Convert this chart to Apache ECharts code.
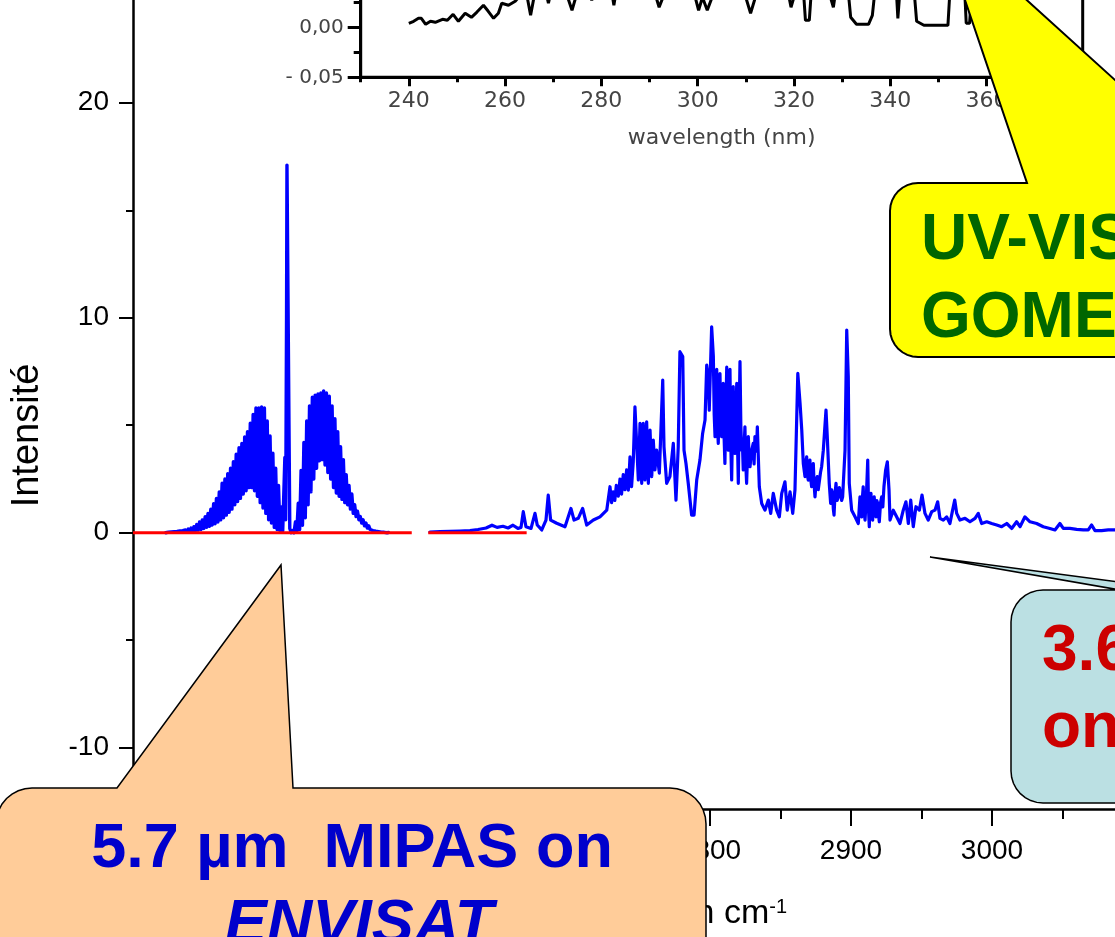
<!DOCTYPE html>
<html>
<head>
<meta charset="utf-8">
<script src="https://cdn.jsdelivr.net/npm/echarts@6/dist/echarts.min.js"></script>
<style>
  html, body { margin: 0; padding: 0; background: #fff; }
  #chart { width: 1115px; height: 937px; }
</style>
</head>
<body>
<div id="chart"></div>
<script>
// ---- Main spectrum: wavenumber (cm-1) vs intensity ----
const X_MIN = 2390.8, X_MAX = 3095;
const Y_MIN = -12.85, Y_MAX = 24.78;
const xMajorTicks = [2400, 2500, 2600, 2700, 2800, 2900, 3000];
const xMinorTicks = [2450, 2550, 2650, 2750, 2850, 2950, 3050];
const yMajorTicks = [-10, 0, 10, 20];
const yMinorTicks = [-5, 5, 15];

// 5.7 µm band: P branch (dense rotational lines)
const bandP = [
  [2414,0.0],[2415,0.0],[2416,0.03],[2417,0.0],[2418,0.04],[2419,0.0],[2420,0.05],[2421,0.01],
  [2422,0.06],[2423,0.01],[2424,0.08],[2425,0.01],[2426,0.1],[2427,0.02],[2428,0.13],[2429,0.03],
  [2430,0.17],[2431,0.05],[2432,0.22],[2433,0.07],[2434,0.28],[2435,0.09],[2436,0.38],[2437,0.12],
  [2438,0.5],[2439,0.15],[2440,0.6],[2441,0.2],[2442,0.75],[2443,0.25],[2444,0.9],[2445,0.3],
  [2446,1.1],[2447,0.36],[2448,1.35],[2449,0.42],[2450,1.6],[2451,0.5],[2452,1.9],[2453,0.6],
  [2454,2.3],[2455,0.7],[2456,2.5],[2457,0.82],[2458,2.75],[2459,0.95],[2460,3.0],[2461,1.1],
  [2462,3.3],[2463,1.3],[2464,3.65],[2465,1.45],[2466,3.95],[2467,1.6],[2468,4.15],[2469,1.8],
  [2470,4.45],[2471,1.95],[2472,4.7],[2473,2.1],[2474,5.1],[2475,2.1],[2476,5.5],[2477,1.95],
  [2478,5.8],[2479,1.7],[2480,5.8],[2481,1.4],[2482,5.85],[2483,1.15],[2484,5.8],[2485,0.9],
  [2486,5.2],[2487,0.6],[2488,4.5],[2489,0.45],[2490,3.7],[2491,0.25],[2492,3.0],[2493,0.15],
  [2494,2.2],[2495,0.1],[2496,1.2],[2497,0.1]
];
// Q branch spike
const bandQ = [
  [2497.8,0.1],[2498.5,3.5],[2499.1,0.6],[2499.7,10.0],[2500.0,17.1],[2501.4,17.1],
  [2502.0,0.2],[2503,0.0]
];
// R branch
const bandR = [
  [2504,0.1],[2505,0.0],[2506,0.5],[2507,0.05],[2508,1.37],[2509,0.15],[2510,2.9],[2511,0.35],
  [2512,4.2],[2513,0.7],[2514,5.2],[2515,1.3],[2516,5.9],[2517,1.9],[2518,6.3],[2519,2.5],
  [2520,6.4],[2521,3.0],[2522,6.45],[2523,3.35],[2524,6.5],[2525,3.4],[2526,6.6],[2527,3.15],
  [2528,6.5],[2529,2.8],[2530,6.35],[2531,2.5],[2532,5.9],[2533,2.1],[2534,5.3],[2535,1.85],
  [2536,4.7],[2537,1.7],[2538,4.0],[2539,1.55],[2540,3.4],[2541,1.4],[2542,2.7],[2543,1.3],
  [2544,2.2],[2545,1.1],[2546,1.8],[2547,0.9],[2548,1.3],[2549,0.75],[2550,1.0],[2551,0.6],
  [2552,0.75],[2553,0.45],[2554,0.6],[2555,0.32],[2556,0.45],[2557,0.22],[2558,0.32],[2559,0.15],
  [2560,0.22],[2561,0.1],[2562,0.15],[2563,0.07],[2564,0.1],[2565,0.05],[2566,0.08],[2567,0.03],
  [2568,0.05],[2569,0.02],[2570,0.03],[2571,0.0],[2572,0.01]
];
// 3.6 µm region
const band36 = [
  [2601.4,0.03],[2608.5,0.05],[2615.6,0.06],[2622.7,0.08],[2629.8,0.1],[2635.5,0.15],[2641.2,0.22],
  [2645.4,0.35],[2649.0,0.25],[2653.2,0.3],[2656.8,0.22],[2660.3,0.35],[2663.8,0.2],[2666.0,0.25],
  [2667.6,0.98],[2669.5,0.28],[2673.1,0.2],[2675.9,0.9],[2677.5,0.36],[2680.7,0.13],[2683.7,0.59],
  [2685.3,1.75],[2687.0,0.59],[2691.3,0.44],[2697.2,0.28],[2701.4,1.13],[2703.6,0.59],[2706.6,0.67],
  [2709.7,1.13],[2712.6,0.36],[2717.3,0.59],[2722.0,0.74],[2726.8,1.05],[2729.1,2.14],[2730.2,1.4],
  [2731.4,1.9],[2732.5,1.5],[2733.6,2.2],[2735.0,1.7],[2736.2,2.5],[2737.3,1.8],[2738.5,2.7],
  [2739.7,2.0],[2740.9,2.92],[2742.1,1.98],[2743.3,3.53],[2744.4,2.14],[2745.6,3.3],[2746.8,5.86],
  [2748.0,4.16],[2749.2,2.46],[2750.4,5.09],[2751.6,2.3],[2752.7,5.09],[2753.9,2.46],[2755.1,5.16],
  [2756.3,2.3],[2757.5,4.78],[2758.7,2.61],[2759.8,4.31],[2761.0,2.92],[2762.2,3.84],[2764.1,2.77],
  [2766.5,7.1],[2767.4,4.0],[2769.3,2.3],[2771.6,2.61],[2774.0,4.16],[2775.9,1.52],[2777.5,3.99],
  [2778.7,8.42],[2780.7,8.2],[2781.6,3.84],[2783.0,3.22],[2784.6,2.3],[2787.0,0.82],[2788.7,0.82],
  [2790.6,2.45],[2792.9,3.38],[2794.8,4.62],[2796.5,5.24],[2797.7,7.8],[2798.8,7.25],[2799.5,5.7],
  [2801.2,9.58],[2802.4,8.2],[2803.0,5.5],[2803.6,4.47],[2804.2,6.5],[2804.8,7.6],[2805.3,5.0],
  [2805.9,4.16],[2806.5,6.0],[2807.1,7.4],[2807.7,5.2],[2808.3,4.47],[2808.9,6.2],[2809.4,6.95],
  [2810.0,4.5],[2810.6,3.22],[2811.2,5.5],[2811.9,7.7],[2812.4,5.0],[2813.0,3.84],[2813.6,6.0],
  [2814.2,7.6],[2814.8,4.0],[2815.4,2.46],[2816.0,5.0],[2816.5,6.8],[2817.1,4.5],[2817.7,3.69],
  [2818.4,5.5],[2819.0,6.95],[2819.6,4.0],[2820.1,2.3],[2820.7,5.5],[2821.3,7.96],[2821.9,5.0],
  [2822.5,3.84],[2823.0,4.2],[2823.6,2.92],[2824.2,4.0],[2824.8,4.93],[2825.4,3.2],[2826.0,2.3],
  [2826.6,3.5],[2827.2,4.47],[2827.8,3.5],[2828.4,3.07],[2829.5,3.8],[2830.7,4.16],[2831.3,3.2],
  [2831.9,4.47],[2833.0,3.8],[2833.6,4.93],[2835.0,2.14],[2836.7,1.36],[2839.0,1.05],[2841.4,1.52],
  [2843.1,0.9],[2844.9,1.83],[2847.3,1.05],[2849.2,0.74],[2850.9,1.83],[2853.2,2.37],[2854.8,1.05],
  [2856.8,1.9],[2858.7,0.9],[2860.3,2.0],[2862.3,7.41],[2863.9,6.02],[2865.1,4.78],[2866.2,3.22],
  [2867.4,2.61],[2868.0,3.3],[2868.6,3.53],[2869.1,2.7],[2869.7,2.45],[2870.3,3.2],[2870.9,3.38],
  [2871.5,2.5],[2872.1,2.14],[2872.7,3.0],[2873.3,3.22],[2873.9,2.2],[2874.5,1.67],[2875.3,2.4],
  [2876.1,2.61],[2876.8,2.0],[2877.5,1.98],[2878.4,2.8],[2879.2,3.07],[2880.4,3.84],[2882.3,5.7],
  [2883.2,4.47],[2884.6,2.3],[2885.6,1.36],[2886.3,2.0],[2887.0,1.83],[2887.5,1.1],[2888.0,0.82],
  [2888.7,1.8],[2889.4,2.3],[2890.2,1.5],[2891.0,1.67],[2891.8,2.1],[2892.7,2.06],[2893.4,1.5],
  [2894.1,1.67],[2895.8,3.84],[2897.0,9.43],[2898.1,7.25],[2898.8,2.3],[2900.5,1.05],[2902.9,0.74],
  [2905.2,0.43],[2906.4,1.67],[2907.0,0.9],[2907.6,0.74],[2908.2,1.7],[2908.7,2.14],[2909.3,1.0],
  [2910.0,0.59],[2911.0,1.8],[2911.9,3.38],[2912.5,1.0],[2913.0,0.28],[2913.6,1.5],[2914.2,1.83],
  [2914.8,0.9],[2915.4,0.59],[2916.0,1.5],[2916.5,1.67],[2917.1,1.0],[2917.7,0.74],[2918.3,1.5],
  [2919.0,1.36],[2919.6,0.8],[2920.1,0.51],[2921.0,1.4],[2921.8,1.67],[2922.6,1.2],[2923.4,2.14],
  [2924.6,2.92],[2925.8,3.3],[2927.0,1.98],[2927.7,0.59],[2930.0,1.05],[2932.4,0.74],[2934.8,0.43],
  [2937.1,1.05],[2939.0,1.44],[2940.7,0.43],[2942.4,1.52],[2944.2,0.28],[2946.1,1.21],[2948.5,1.05],
  [2950.4,1.75],[2952.5,0.9],[2954.8,0.59],[2957.3,0.98],[2959.6,1.05],[2961.5,1.44],[2963.1,0.67],
  [2965.5,0.59],[2967.9,0.74],[2970.2,0.43],[2972.1,1.05],[2973.6,1.52],[2975.0,0.9],[2977.3,0.59],
  [2980.9,0.67],[2984.4,0.51],[2988.0,0.67],[2990.3,0.9],[2992.7,0.43],[2996.3,0.51],[2999.8,0.43],
  [3003.4,0.36],[3006.9,0.28],[3010.5,0.43],[3014.0,0.2],[3017.5,0.51],[3019.9,0.28],[3023.4,0.74],
  [3027.0,0.51],[3031.7,0.43],[3036.4,0.28],[3041.1,0.2],[3044.7,0.13],[3048.2,0.43],[3050.6,0.2],
  [3055.3,0.2],[3060.1,0.16],[3064.8,0.13],[3068.3,0.13],[3070.7,0.36],[3073.1,0.1],[3077.8,0.1],
  [3082.5,0.13],[3087.2,0.13],[3095,0.1]
];
// Zero reference segments (gap between them)
const zeroLine = [[2390.8,0],[2588.5,0],[2594,'-'],[2600.2,0],[2670.0,0]];

// ---- Inset: UV-VIS absorbance vs wavelength (nm) ----
const uvXTicks = [240, 260, 280, 300, 320, 340, 360, 380];
const uvXMinor = [230, 250, 270, 290, 310, 330, 350, 370];
const uvYTicks = [-0.05, 0, 0.05, 0.10];
const uvYMinor = [-0.025, 0.025, 0.075];
const uvSpectrum = [
  [240,0.004],[241,0.006],[242,0.009],[242.6,0.009],[243.5,0.003],[244.5,0.006],[245.5,0.005],
  [247,0.008],[248,0.007],[249.2,0.013],[250.3,0.006],[251.7,0.014],[253,0.01],[254.1,0.015],
  [255.5,0.022],[256.5,0.016],[257.6,0.009],[258.6,0.014],[259.3,0.024],[260.7,0.022],[262.1,0.026],
  [263.5,0.034],[264.6,0.03],[265.3,0.012],[266,0.03],[267,0.04],[268.5,0.035],[269,0.024],
  [269.5,0.035],[271,0.04],[273,0.03],[273.9,0.017],[274.8,0.032],[277,0.04],[278,0.027],[279,0.04],
  [282,0.04],[282.6,0.022],[283.2,0.04],[290,0.04],[291.5,0.028],[292,0.02],[292.8,0.03],[296,0.04],
  [299.5,0.03],[300.2,0.017],[301,0.03],[302,0.017],[303,0.03],[306,0.04],[310,0.03],[311,0.014],
  [312,0.03],[316,0.04],[319,0.03],[319.4,0.02],[320,0.03],[322,0.035],[322.4,0.007],[323.2,0.007],
  [323.6,0.035],[327,0.04],[328.2,0.02],[328.8,0.04],[331.3,0.035],[331.8,0.01],[333,0.003],
  [335.5,0.003],[336.3,0.012],[336.8,0.035],[341.3,0.035],[341.6,0.009],[342,0.035],[345,0.035],
  [345.5,0.006],[347,0.002],[352,0.002],[352.4,0.035],[355.5,0.035],[355.8,0.004],[356.5,0.004],
  [357,0.04],[378,0.04]
];

const FONT = '"Liberation Sans", Arial, Helvetica, sans-serif';
const INSET_FONT = '"DejaVu Sans", Verdana, sans-serif';
const commaFmt = v => (v < 0 ? '- ' : '') + Math.abs(v).toFixed(2).replace('.', ',');
const plainFmt = v => String(v);

// Outline of a rounded box whose top edge carries a pointer (base1 -> tip -> base2).
function calloutOutline(x, y, w, h, r, base1, tip, base2) {
  const pts = [[x + r, y], [base1, y], tip, [base2, y], [x + w - r, y]];
  const arc = (cx, cy, a0, a1) => {
    for (let i = 1; i <= 8; i++) {
      const a = (a0 + (a1 - a0) * i / 8) * Math.PI / 180;
      pts.push([cx + r * Math.cos(a), cy + r * Math.sin(a)]);
    }
  };
  arc(x + w - r, y + r, -90, 0);
  pts.push([x + w, y + h - r]);
  arc(x + w - r, y + h - r, 0, 90);
  pts.push([x + r, y + h]);
  arc(x + r, y + h - r, 90, 180);
  pts.push([x, y + r]);
  arc(x + r, y + r, 180, 270);
  return pts;
}

const chart = echarts.init(document.getElementById('chart'));

const textEl = (x, y, text, font, fill, align) => ({
  type: 'text', z: 101, x: x, y: y,
  style: { text: text, font: font, fill: fill, textAlign: align, textVerticalAlign: 'middle',
           align: align, verticalAlign: 'middle' }
});

const option = {
  animation: false,
  backgroundColor: '#ffffff',
  grid: [
    { left: 133, top: 0, width: 992.9, height: 809, show: false, outerBoundsMode: 'none', containLabel: false },
    { left: 360.7, top: -72.7, width: 722, height: 150, show: true, outerBoundsMode: 'none', containLabel: false,
      borderColor: '#000', borderWidth: 3, backgroundColor: 'transparent' }
  ],
  xAxis: [
    { gridIndex: 0, type: 'value', min: X_MIN, max: X_MAX, position: 'bottom',
      axisLine: { show: true, onZero: false, lineStyle: { color: '#000', width: 2.5 } },
      axisTick: { show: true, customValues: xMajorTicks, length: 17, lineStyle: { color: '#000', width: 2 } },
      axisLabel: { customValues: xMajorTicks, margin: 28, fontSize: 28, color: '#000', fontFamily: FONT,
                   formatter: plainFmt },
      splitLine: { show: false },
      name: "{a|Nombre d'onde en cm}{s|-1}", nameLocation: 'middle', nameGap: 88,
      nameTextStyle: { padding: [0, 36, 0, 0],
        rich: { a: { fontSize: 34, color: '#000', fontFamily: FONT },
                s: { fontSize: 20, color: '#000', fontFamily: FONT, verticalAlign: 'top' } } } },
    { gridIndex: 0, type: 'value', min: X_MIN, max: X_MAX, position: 'bottom',
      axisLine: { show: false, onZero: false },
      axisTick: { show: true, customValues: xMinorTicks, length: 10, lineStyle: { color: '#000', width: 2 } },
      axisLabel: { show: false }, splitLine: { show: false } },
    { gridIndex: 1, type: 'value', min: 230, max: 380, position: 'bottom',
      axisLine: { show: true, onZero: false, lineStyle: { color: '#000', width: 3 } },
      axisTick: { show: true, customValues: uvXTicks, length: 9, lineStyle: { color: '#000', width: 3 } },
      axisLabel: { customValues: uvXTicks, margin: 13, fontSize: 22, color: '#444', fontFamily: INSET_FONT,
                   formatter: plainFmt },
      splitLine: { show: false },
      name: 'wavelength (nm)', nameLocation: 'middle', nameGap: 50,
      nameTextStyle: { fontSize: 22, color: '#444', fontFamily: INSET_FONT } },
    { gridIndex: 1, type: 'value', min: 230, max: 380, position: 'bottom',
      axisLine: { show: false, onZero: false },
      axisTick: { show: true, customValues: uvXMinor, length: 5, lineStyle: { color: '#000', width: 3 } },
      axisLabel: { show: false }, splitLine: { show: false } }
  ],
  yAxis: [
    { gridIndex: 0, type: 'value', min: Y_MIN, max: Y_MAX, position: 'left',
      axisLine: { show: true, onZero: false, lineStyle: { color: '#000', width: 2.5 } },
      axisTick: { show: true, customValues: yMajorTicks, length: 14, lineStyle: { color: '#000', width: 2 } },
      axisLabel: { customValues: yMajorTicks, margin: 24, fontSize: 28, color: '#000', fontFamily: FONT,
                   formatter: plainFmt },
      splitLine: { show: false },
      name: 'Intensité', nameLocation: 'middle', nameGap: 86,
      nameTextStyle: { fontSize: 38, color: '#000', fontFamily: FONT, padding: [0, 62, 0, 0] } },
    { gridIndex: 0, type: 'value', min: Y_MIN, max: Y_MAX, position: 'left',
      axisLine: { show: false, onZero: false },
      axisTick: { show: true, customValues: yMinorTicks, length: 7, lineStyle: { color: '#000', width: 2 } },
      axisLabel: { show: false }, splitLine: { show: false } },
    { gridIndex: 1, type: 'value', min: -0.05, max: 0.10, position: 'left',
      axisLine: { show: true, onZero: false, lineStyle: { color: '#000', width: 3 } },
      axisTick: { show: true, customValues: uvYTicks, length: 13, lineStyle: { color: '#000', width: 3 } },
      axisLabel: { customValues: uvYTicks, margin: 17, fontSize: 20, color: '#444', fontFamily: INSET_FONT,
                   formatter: commaFmt },
      splitLine: { show: false } },
    { gridIndex: 1, type: 'value', min: -0.05, max: 0.10, position: 'left',
      axisLine: { show: false, onZero: false },
      axisTick: { show: true, customValues: uvYMinor, length: 7, lineStyle: { color: '#000', width: 3 } },
      axisLabel: { show: false }, splitLine: { show: false } }
  ],
  series: [
    { name: '5.7 µm', type: 'line', xAxisIndex: 0, yAxisIndex: 0, showSymbol: false, z: 2,
      data: bandP.concat(bandQ, bandR),
      lineStyle: { color: '#0000FF', width: 3.4, join: 'round', cap: 'round' } },
    { name: '3.6 µm', type: 'line', xAxisIndex: 0, yAxisIndex: 0, showSymbol: false, z: 2,
      data: band36, lineStyle: { color: '#0000FF', width: 3.2, join: 'round', cap: 'round' } },
    { name: 'zero', type: 'line', xAxisIndex: 0, yAxisIndex: 0, showSymbol: false, z: 3,
      data: zeroLine, connectNulls: false, lineStyle: { color: '#FF0000', width: 3 } },
    { name: 'UV-VIS', type: 'line', xAxisIndex: 2, yAxisIndex: 2, showSymbol: false, z: 2,
      data: uvSpectrum, lineStyle: { color: '#000', width: 3 } }
  ],
  graphic: [
    // UV-VIS callout
    { type: 'polygon', z: 100,
      shape: { points: calloutOutline(890, 183, 420, 174, 28, 1027, [937.6, -80.7], 1228.7) },
      style: { fill: '#FFFF00', stroke: '#000', lineWidth: 2 } },
    textEl(921, 241.7, 'UV-VIS', 'bold 64px ' + FONT, '#006600', 'left'),
    textEl(921, 319.2, 'GOME', 'bold 64px ' + FONT, '#006600', 'left'),
    // 3.6 µm callout
    { type: 'polygon', z: 100,
      shape: { points: calloutOutline(1011, 590, 300, 213, 32, 1120, [930, 557], 1180) },
      style: { fill: '#BBE0E3', stroke: '#000', lineWidth: 1.5 } },
    textEl(1042, 652, '3.6 µm', 'bold 64px ' + FONT, '#CC0000', 'left'),
    textEl(1042, 729, 'on', 'bold 64px ' + FONT, '#CC0000', 'left'),
    // 5.7 µm callout
    { type: 'polygon', z: 100,
      shape: { points: calloutOutline(-4, 788, 710, 220, 36, 117, [281, 565], 293) },
      style: { fill: '#FFCC99', stroke: '#000', lineWidth: 1.5 } },
    textEl(352, 850, '5.7 µm  MIPAS on', 'bold 63px ' + FONT, '#0000CC', 'center'),
    textEl(359, 926, 'ENVISAT', 'italic bold 63px ' + FONT, '#0000CC', 'center')
  ]
};

chart.setOption(option);
</script>
</body>
</html>
